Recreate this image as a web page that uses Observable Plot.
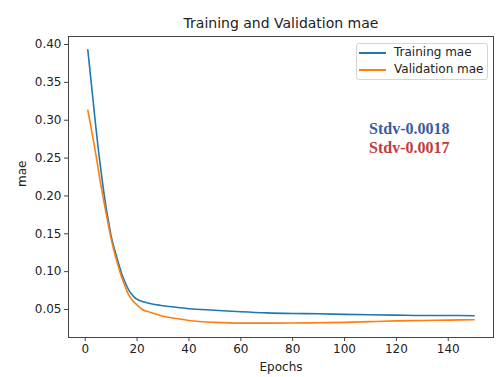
<!DOCTYPE html>
<html><head><meta charset="utf-8">
<script src="https://cdn.jsdelivr.net/npm/d3@7"></script>
<script src="https://cdn.jsdelivr.net/npm/@observablehq/plot@0.6"></script>
<style>
body{margin:0;background:#fff;font-family:"DejaVu Sans",sans-serif;}
#wrap{position:relative;width:497px;height:377px;}
.legend{position:absolute;left:356px;top:43px;width:130px;height:35px;border:1px solid #d5d5d5;border-radius:3px;background:rgba(255,255,255,0.85);font-size:12px;color:#222;}
.row{position:absolute;left:0;height:15px;line-height:15px;}
.row span.sw{position:absolute;left:2px;top:7px;width:27px;height:0;border-top:2px solid;}
.row span.lb{position:absolute;left:37px;top:0;white-space:nowrap;}
.stdv{position:absolute;font-family:"Liberation Serif","Times New Roman",serif;font-weight:bold;font-size:16px;white-space:nowrap;}
</style></head>
<body><div id="wrap"></div>
<script>
const epochs = [1,2,3,4,5,6,7,8,9,10,11,12,13,14,15,16,17,18,19,20,22,25,30,35,40,50,60,70,80,90,100,110,120,130,140,150];
const trainingMae = [0.393,0.360,0.327,0.294,0.263,0.235,0.209,0.186,0.166,0.147,0.133,0.121,0.109,0.098,0.089,0.081,0.0745,0.070,0.066,0.0635,0.0605,0.0578,0.055,0.053,0.051,0.049,0.047,0.0455,0.0447,0.0443,0.0435,0.043,0.0425,0.042,0.042,0.0418];
const validationMae = [0.313,0.295,0.276,0.257,0.236,0.215,0.196,0.178,0.160,0.143,0.129,0.116,0.104,0.093,0.084,0.075,0.068,0.063,0.059,0.056,0.050,0.0465,0.041,0.038,0.0355,0.033,0.032,0.032,0.0322,0.0325,0.033,0.034,0.035,0.0355,0.036,0.0365];
const xTicks = [0,20,40,60,80,100,120,140];
const yTicks = [0.05,0.10,0.15,0.20,0.25,0.30,0.35,0.40];
const seriesNames = ["Training mae","Validation mae"];
const seriesColors = ["#1f77b4","#ff7f0e"];
const titleText = "Training and Validation mae";
const stdvTexts = ["Stdv-0.0018","Stdv-0.0017"];
const stdvColors = ["#3a5c9c","#c23b3b"];

const train = epochs.map((e,i)=>({epoch:e, mae:trainingMae[i]}));
const val = epochs.map((e,i)=>({epoch:e, mae:validationMae[i]}));

const chart = Plot.plot({
  width:497, height:377,
  marginLeft:68, marginRight:4, marginTop:36, marginBottom:40,
  style:{fontFamily:"DejaVu Sans, sans-serif", fontSize:"12px", color:"#222", background:"#fff"},
  x:{domain:[-6.45,157.45], label:null},
  y:{domain:[0.013,0.4106], label:null},
  marks:[
    Plot.frame({stroke:"#444", strokeWidth:1}),
    Plot.axisX({ticks:xTicks, tickSize:4, tickPadding:3, stroke:"#444", fontSize:12}),
    Plot.axisY({ticks:yTicks, tickFormat:d3.format(".2f"), tickSize:4, tickPadding:3, stroke:"#444", fontSize:12}),
    Plot.line(train,{x:"epoch", y:"mae", stroke:seriesColors[0], strokeWidth:1.6, curve:"monotone-x"}),
    Plot.line(val,{x:"epoch", y:"mae", stroke:seriesColors[1], strokeWidth:1.6, curve:"monotone-x"}),
    Plot.text([titleText],{frameAnchor:"top", dy:-18, fontSize:14, fill:"#222"}),
    Plot.text(["Epochs"],{frameAnchor:"bottom", dy:33, fontSize:12, fill:"#222"}),
    Plot.text(["mae"],{frameAnchor:"left", dx:-46, rotate:-90, fontSize:12, fill:"#222"})
  ]
});
const wrap = document.getElementById("wrap");
wrap.appendChild(chart);

const lg = document.createElement("div");
lg.className="legend";
seriesNames.forEach((n,i)=>{
  const r=document.createElement("div");
  r.className="row"; r.style.top=(1+i*17)+"px"; r.style.width="130px";
  r.innerHTML=`<span class="sw" style="border-top-color:${seriesColors[i]}"></span><span class="lb">${n}</span>`;
  lg.appendChild(r);
});
wrap.appendChild(lg);
stdvTexts.forEach((t,i)=>{
  const s=document.createElement("div");
  s.className="stdv"; s.style.left="369px"; s.style.top=(120+i*19)+"px"; s.style.color=stdvColors[i];
  s.textContent=t; wrap.appendChild(s);
});
</script></body></html>
